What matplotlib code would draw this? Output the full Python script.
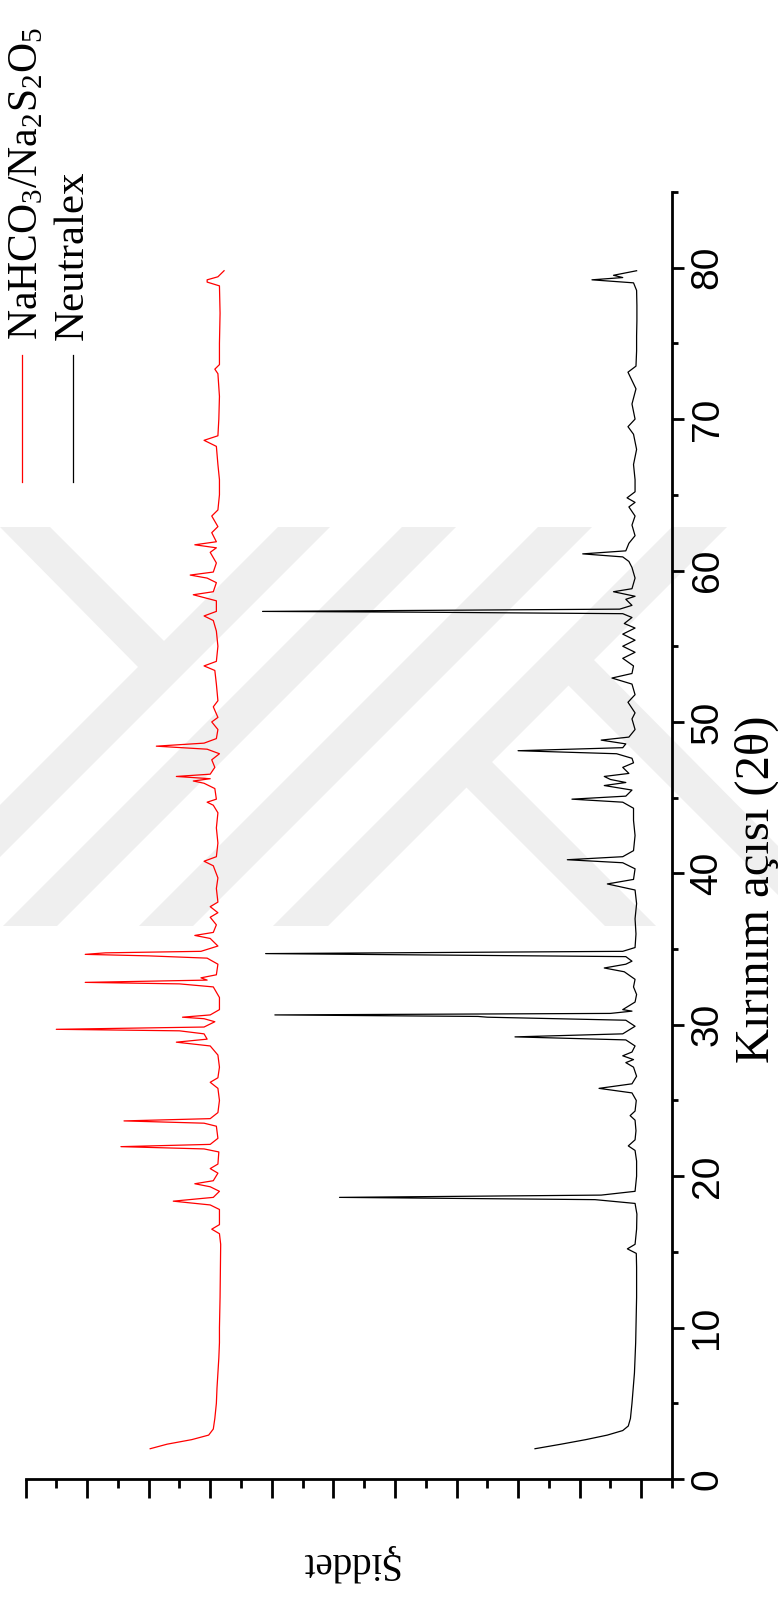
import matplotlib
matplotlib.use('Agg')
import matplotlib.pyplot as plt
from matplotlib.patches import Polygon
from matplotlib.lines import Line2D

plt.rcParams['mathtext.fontset'] = 'custom'
plt.rcParams['mathtext.rm'] = 'Liberation Serif'
plt.rcParams['mathtext.it'] = 'Liberation Serif'

W, H = 778, 1603          # canvas size in pixels
SERIF = ['Liberation Serif', 'DejaVu Serif']
SANS = ['Liberation Sans', 'DejaVu Sans']

# Neutralex pattern: (2theta, intensity)
neutralex = [
    (2.0, 4.45), (2.3, 3.6), (2.6, 2.8), (2.9, 2.1), (3.2, 1.6), (3.5, 1.42),
    (4.0, 1.35), (5.0, 1.30), (6.0, 1.26), (7.0, 1.22), (8.0, 1.20), (9.0, 1.18),
    (10.0, 1.17), (11.0, 1.16), (12.0, 1.15), (13.0, 1.15), (14.0, 1.15),
    (14.9, 1.16), (15.2, 1.45), (15.5, 1.20), (16.5, 1.15), (17.5, 1.14),
    (18.2, 1.20), (18.45, 2.5), (18.6, 10.8), (18.75, 2.3), (19.0, 1.20),
    (20.0, 1.15), (21.0, 1.15), (21.7, 1.20), (22.0, 1.42), (22.4, 1.20),
    (23.0, 1.17), (23.7, 1.20), (24.0, 1.36), (24.3, 1.20), (25.0, 1.16),
    (25.5, 1.30), (25.8, 2.37), (26.1, 1.30), (26.6, 1.15), (27.2, 1.25),
    (27.5, 1.50), (27.7, 1.25), (27.95, 1.60), (28.2, 1.30), (28.6, 1.20),
    (29.0, 1.50), (29.2, 5.1), (29.4, 1.60), (29.9, 1.20), (30.3, 1.50),
    (30.5, 6.0), (30.55, 6.3), (30.65, 12.9), (30.75, 2.0), (30.9, 1.30),
    (31.0, 1.60), (31.5, 1.20), (32.0, 1.15), (32.5, 1.25), (33.0, 1.20),
    (33.5, 1.55), (33.75, 2.2), (34.0, 1.50), (34.2, 1.30), (34.5, 1.50),
    (34.7, 13.2), (34.85, 1.60), (35.1, 1.20), (36.0, 1.17), (37.0, 1.20),
    (38.0, 1.15), (38.9, 1.20), (39.3, 2.1), (39.6, 1.25), (40.3, 1.20),
    (40.7, 1.60), (40.9, 3.4), (41.1, 1.60), (41.5, 1.25), (42.5, 1.20),
    (43.5, 1.25), (44.3, 1.25), (44.7, 1.60), (44.9, 3.25), (45.1, 1.50),
    (45.5, 1.30), (45.8, 2.2), (46.0, 1.50), (46.2, 2.0), (46.4, 2.2),
    (46.6, 1.40), (47.0, 1.60), (47.3, 1.25), (47.6, 1.30), (47.9, 1.80),
    (48.1, 5.0), (48.3, 1.60), (48.55, 1.50), (48.8, 2.3), (49.0, 1.40),
    (49.5, 1.20), (50.2, 1.30), (50.6, 1.20), (51.3, 1.43), (51.8, 1.20),
    (52.5, 1.30), (52.9, 1.95), (53.2, 1.30), (53.7, 1.25), (54.2, 1.60),
    (54.6, 1.20), (55.0, 1.60), (55.4, 1.20), (55.8, 1.60), (56.2, 1.20),
    (56.5, 1.55), (56.9, 1.30), (57.15, 1.60), (57.25, 8.3), (57.3, 13.3),
    (57.45, 1.70), (57.7, 1.30), (58.1, 1.50), (58.3, 1.20), (58.6, 1.90),
    (58.8, 1.30), (59.5, 1.20), (60.2, 1.30), (60.6, 1.40), (60.9, 1.60),
    (61.1, 2.9), (61.3, 1.50), (61.8, 1.40), (62.3, 1.20), (63.0, 1.30),
    (63.6, 1.20), (64.2, 1.40), (64.5, 1.20), (64.8, 1.46), (65.2, 1.20),
    (66.0, 1.20), (67.0, 1.25), (68.0, 1.15), (69.0, 1.25), (69.5, 1.43),
    (70.0, 1.20), (71.0, 1.30), (72.0, 1.17), (73.1, 1.43), (73.5, 1.17),
    (74.5, 1.15), (75.5, 1.15), (76.5, 1.14), (77.5, 1.14), (78.5, 1.15),
    (79.0, 1.25), (79.2, 2.6), (79.35, 1.60), (79.5, 1.90), (79.8, 1.15),
]

# NaHCO3/Na2S2O5 pattern: (2theta, intensity)
nahco3_na2s2o5 = [
    (2.0, 16.95), (2.3, 16.4), (2.6, 15.6), (2.9, 15.05), (3.3, 14.9),
    (4.0, 14.85), (5.0, 14.8), (6.0, 14.78), (7.0, 14.75), (8.0, 14.72),
    (9.0, 14.7), (10.0, 14.7), (12.0, 14.68), (14.0, 14.67), (15.5, 14.66),
    (16.2, 14.7), (16.5, 14.95), (16.8, 14.7), (17.8, 14.7), (18.1, 15.0),
    (18.35, 16.2), (18.6, 14.9), (19.0, 14.7), (19.3, 15.0), (19.5, 15.5),
    (19.7, 14.9), (20.2, 14.75), (20.5, 15.0), (20.8, 14.75), (21.6, 14.72),
    (21.8, 15.2), (21.95, 17.9), (22.1, 15.0), (22.5, 14.75), (23.3, 14.8),
    (23.5, 15.2), (23.65, 17.8), (23.8, 15.0), (24.2, 14.75), (25.0, 14.7),
    (25.8, 14.75), (26.2, 15.0), (26.5, 14.75), (27.2, 14.7), (28.0, 14.75),
    (28.6, 15.0), (28.85, 16.1), (29.05, 15.1), (29.4, 15.2), (29.6, 16.0),
    (29.7, 20.0), (29.85, 15.2), (30.2, 14.85), (30.4, 15.2), (30.5, 15.9),
    (30.65, 15.0), (31.0, 14.7), (31.8, 14.7), (32.5, 14.9), (32.7, 16.0),
    (32.8, 19.06), (32.95, 15.1), (33.1, 15.3), (33.3, 14.8), (34.0, 14.75),
    (34.4, 15.1), (34.55, 17.0), (34.65, 19.06), (34.75, 18.4), (34.85, 15.3),
    (35.2, 14.75), (35.7, 15.0), (35.9, 15.5), (36.1, 14.9), (36.6, 14.8),
    (37.1, 15.0), (37.4, 14.75), (37.8, 15.0), (38.1, 14.75), (39.0, 14.8),
    (39.7, 14.75), (40.5, 14.9), (40.8, 15.2), (41.1, 14.8), (42.0, 14.75),
    (43.0, 14.8), (44.0, 14.75), (44.5, 14.9), (44.7, 15.1), (44.9, 14.8),
    (45.6, 14.85), (45.95, 15.2), (46.1, 15.55), (46.25, 15.0), (46.4, 16.1),
    (46.55, 15.0), (47.0, 14.85), (47.5, 14.95), (47.9, 14.7), (48.2, 15.1),
    (48.4, 16.75), (48.6, 15.2), (48.9, 14.8), (49.5, 14.75), (50.0, 14.95),
    (50.3, 14.75), (51.0, 14.9), (51.4, 14.75), (52.5, 14.8), (53.4, 14.85),
    (53.7, 15.2), (54.0, 14.8), (55.0, 14.75), (56.0, 14.8), (56.7, 14.9),
    (57.0, 15.2), (57.3, 14.8), (58.0, 14.8), (58.4, 15.55), (58.6, 14.9),
    (59.2, 14.8), (59.5, 15.1), (59.7, 15.65), (59.9, 14.9), (60.5, 14.8),
    (61.2, 15.0), (61.5, 14.8), (61.7, 15.5), (61.9, 14.8), (62.5, 14.95),
    (62.9, 14.75), (63.6, 14.95), (64.0, 14.75), (65.0, 14.7), (66.0, 14.7),
    (67.0, 14.75), (68.2, 14.8), (68.6, 15.2), (68.9, 14.75), (70.0, 14.72),
    (71.5, 14.7), (73.0, 14.75), (73.3, 14.85), (73.6, 14.7), (75.0, 14.7),
    (77.0, 14.68), (78.8, 14.7), (79.05, 15.1), (79.2, 15.1), (79.4, 14.75),
    (79.8, 14.55),
]

theta_major = [0, 10, 20, 30, 40, 50, 60, 70, 80]
theta_minor = [5, 15, 25, 35, 45, 55, 65, 75, 85]
int_major = [1, 3, 5, 7, 9, 11, 13, 15, 17, 19, 21]
int_minor = [0, 2, 4, 6, 8, 10, 12, 14, 16, 18, 20]


def fx(px):
    return px / W


def fy(py):
    return 1 - py / H


fig = plt.figure(figsize=(W / 100, H / 100), dpi=100)

# faint background stamp made of slanted bands (pixel coordinates)
bands = [
    [(278, 527), (330, 527), (0, 857), (0, 805)],
    [(402, 527), (456, 527), (57, 926), (3, 926)],
    [(538, 527), (592, 527), (193, 926), (139, 926)],
    [(672, 527), (727, 527), (328, 926), (273, 926)],
    [(0, 527), (50, 527), (165, 642), (139, 668)],
    [(465, 786), (491, 761), (656, 926), (605, 926)],
    [(567, 684), (593, 659), (778, 846), (778, 895)],
]
for b in bands:
    fig.add_artist(Polygon([(fx(x), fy(y)) for x, y in b], closed=True,
                           transform=fig.transFigure, facecolor='#efefef',
                           edgecolor='none', zorder=-1))

ax = fig.add_axes([fx(25.5), fy(1479), fx(672) - fx(25.5), fy(192) - fy(1479)])
ax.set_facecolor('none')

t, i = zip(*neutralex)
ax.plot(i, t, color='black', lw=0.9)
t, i = zip(*nahco3_na2s2o5)
ax.plot(i, t, color='red', lw=0.9)

ax.set_xlim(21, 0)
ax.set_ylim(0, 85)

for side in ['left', 'top']:
    ax.spines[side].set_visible(False)
for side in ['right', 'bottom']:
    ax.spines[side].set_linewidth(2)

ax.yaxis.tick_right()
ax.set_yticks(theta_major)
ax.set_yticks(theta_minor, minor=True)
ax.set_xticks(int_major)
ax.set_xticks(int_minor, minor=True)
ax.tick_params(axis='x', which='major', direction='out', length=13.5, width=2,
               labelbottom=False)
ax.tick_params(axis='x', which='minor', direction='out', length=6.5, width=2)
ax.tick_params(axis='y', which='major', direction='out', length=8.6, width=2,
               labelsize=28, pad=4)
ax.tick_params(axis='y', which='minor', direction='out', length=4.3, width=2)
for lab in ax.get_yticklabels():
    lab.set_rotation(90)
    lab.set_va('center')
    lab.set_ha('left')
    lab.set_family(SANS)

fig.text(fx(757), fy(889), 'Kırınım açısı (2θ)', rotation=90, ha='center',
         va='center', family=SERIF, size=35)
fig.text(fx(349), fy(1563), 'Şiddet', rotation=180, ha='center',
         va='center', family=SERIF, size=28)

# legend entries, written upward
fig.add_artist(Line2D([fx(22), fx(22)], [fy(482), fy(355)], color='red',
                      lw=0.9, transform=fig.transFigure))
fig.add_artist(Line2D([fx(73), fx(73)], [fy(482), fy(355)], color='black',
                      lw=0.9, transform=fig.transFigure))
fig.text(fx(27), fy(340), r'NaHCO$_\mathregular{3}$/Na$_\mathregular{2}$S$_\mathregular{2}$O$_\mathregular{5}$',
         rotation=90, ha='center', va='bottom', family=SERIF, size=30)
fig.text(fx(73), fy(340), 'Neutralex', rotation=90, ha='center',
         va='bottom', family=SERIF, size=31)

fig.savefig('out.png', dpi=100)
